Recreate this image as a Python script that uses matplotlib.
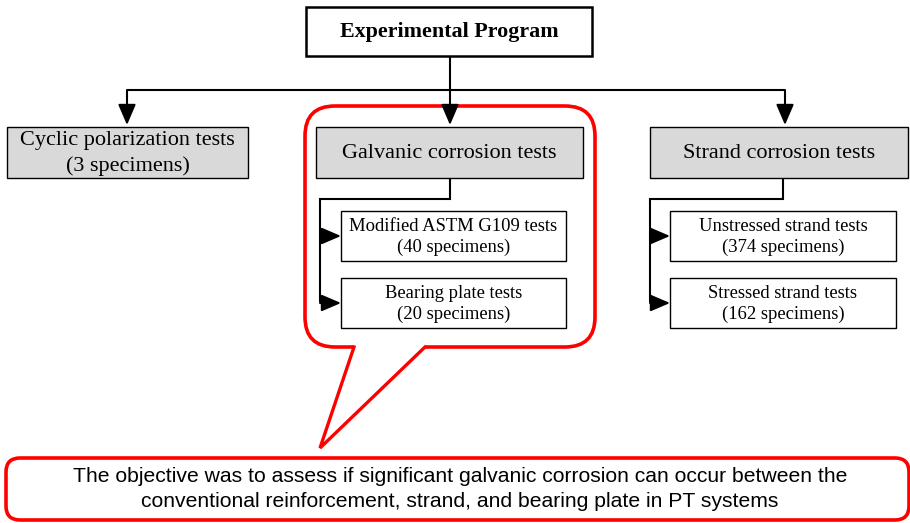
import matplotlib

matplotlib.use("Agg")
import matplotlib.pyplot as plt
from matplotlib.patches import FancyBboxPatch, Rectangle

TITLE = "Experimental Program"
MAIN_LABELS = ["Cyclic polarization tests\n(3 specimens)",
               "Galvanic corrosion tests",
               "Strand corrosion tests"]
GALVANIC_LABELS = ["Modified ASTM G109 tests\n(40 specimens)",
                   "Bearing plate tests\n(20 specimens)"]
STRAND_LABELS = ["Unstressed strand tests\n(374 specimens)",
                 "Stressed strand tests\n(162 specimens)"]
NOTE = ("The objective was to assess if significant galvanic corrosion can occur between the\n"
        "conventional reinforcement, strand, and bearing plate in PT systems")

SERIF = "Liberation Serif"
SANS = "Liberation Sans"
RED = "#ff0000"
GRAY = "#d9d9d9"

fig = plt.figure(figsize=(9.10, 5.23), dpi=100)
ax = fig.add_axes([0, 0, 1, 1])
ax.set_xlim(0, 910)
ax.set_ylim(523, 0)
ax.axis("off")


def box(x0, y0, x1, y1, text, fill="white", lw=1.0, size=13.5, weight="normal",
        spacing=1.3):
    ax.add_patch(Rectangle((x0, y0), x1 - x0, y1 - y0, facecolor=fill,
                           edgecolor="black", lw=lw, zorder=3))
    ax.text((x0 + x1) / 2, (y0 + y1) / 2 + 1, text, ha="center", va="center",
            family=SERIF, fontsize=size, weight=weight, linespacing=spacing, zorder=4)


def line(xs, ys, lw=1.5):
    ax.plot(xs, ys, color="black", lw=lw, solid_capstyle="butt",
            solid_joinstyle="miter", zorder=5)


def arrow(x0, y0, x1, y1, scale=18):
    ax.annotate("", xy=(x1, y1), xytext=(x0, y0),
                arrowprops=dict(arrowstyle="-|>,head_length=0.7,head_width=0.3",
                                mutation_scale=scale, lw=1.5, color="black",
                                shrinkA=0, shrinkB=0), zorder=5)


# red callout around galvanic branch
ax.add_patch(FancyBboxPatch((305, 106), 290, 241,
                            boxstyle="round,pad=0,rounding_size=30",
                            facecolor="none", edgecolor=RED, lw=2.6, zorder=2))
ax.plot([356, 423], [347, 347], color="white", lw=4, zorder=2.1)
ax.plot([354, 320, 425], [347, 448, 347], color=RED, lw=2.4,
        solid_joinstyle="miter", zorder=2.2)

# top box and main connectors
box(306, 7, 592, 56, TITLE, lw=1.8, size=15.8, weight="bold")
line([450, 450], [56, 90])
line([127, 785], [90, 90])
for xc in [127, 450, 785]:
    arrow(xc, 90, xc, 125)

main_boxes = [(7, 127, 248, 178), (316, 127, 583, 178), (650, 127, 908, 178)]
for (x0, y0, x1, y1), lab in zip(main_boxes, MAIN_LABELS):
    box(x0, y0, x1, y1, lab, fill=GRAY, size=16.0, spacing=1.4)

# sub-branches
sub_rows = [(211, 261), (278, 328)]
for xtop, xspine, bx0, bx1, labels in [(450, 320, 341, 566, GALVANIC_LABELS),
                                       (783, 650, 670, 896, STRAND_LABELS)]:
    line([xtop, xtop, xspine, xspine], [178, 199, 199, 302])
    for (y0, y1), lab in zip(sub_rows, labels):
        arrow(xspine, (y0 + y1) / 2, bx0, (y0 + y1) / 2, scale=17)
        box(bx0, y0, bx1, y1, lab, size=13.4, spacing=1.3)

# objective note
ax.add_patch(FancyBboxPatch((6, 458), 903, 62,
                            boxstyle="round,pad=0,rounding_size=14",
                            facecolor="white", edgecolor=RED, lw=2.6, zorder=2))
ax.text(460, 489, NOTE, ha="center", va="center", family=SANS, fontsize=15.2,
        linespacing=1.45, zorder=4)

fig.savefig("out.png", dpi=100)
